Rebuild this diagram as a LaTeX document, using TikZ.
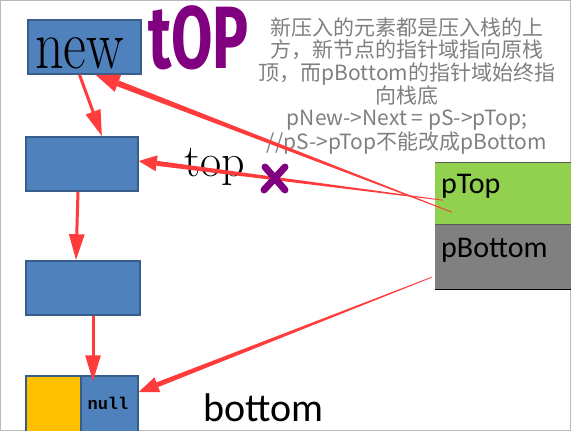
\documentclass[tikz,border=0pt]{standalone}
\usepackage{fontspec}
\usepackage{tikz}
\usetikzlibrary{arrows.meta}
\usetikzlibrary{calc}
\usetikzlibrary{positioning}

\newfontfamily\cjkfont{Noto Sans CJK SC}
\newfontfamily\calfont{Carlito}
\newfontfamily\handfont{Fira Sans}
\newfontfamily\monofont{Liberation Mono}

\definecolor{boxfill}{HTML}{4F81BD}
\definecolor{boxline}{HTML}{385D8A}
\definecolor{nullyellow}{HTML}{FFC000}
\definecolor{ptopgreen}{HTML}{92D050}
\definecolor{pbotgray}{HTML}{808080}
\definecolor{arrowred}{RGB}{255,60,60}
\definecolor{toppurple}{RGB}{128,0,128}
\definecolor{notegray}{HTML}{7F7F7F}

% tapered red arrow: from, tip, half width, head length, half head width
\newcommand{\redtaper}[5]{%
    \coordinate (hb) at ($(#2)!#4!(#1)$);
    \fill[arrowred] ($(#1)!0.4pt!90:(#2)$) -- ($(hb)!#3!90:(#2)$)
        -- ($(hb)!#3!-90:(#2)$) -- ($(#1)!0.4pt!-90:(#2)$) -- cycle;
    \fill[arrowred] (#2) -- ($(hb)!#5!90:(#2)$) -- ($(hb)!#5!-90:(#2)$) -- cycle;
}

\begin{document}
\begin{tikzpicture}[x=1pt, y=-1pt,
    nodebox/.style={draw=boxline, fill=boxfill, line width=1.5pt, minimum height=54pt, inner sep=0pt},
    slot/.style={minimum width=140pt, inner sep=0pt},
    redline/.style={draw=arrowred, line width=3pt, -{Triangle[length=26pt,width=15pt]}},
    xmark/.style={draw=toppurple, line width=7pt, line cap=round}]
    \useasboundingbox (0,0) rectangle (571,431);
    \draw[gray!55] (0.5,0.5) rectangle (570.5,430.5);

    % stack nodes
    \node [nodebox, minimum width=113pt] (new) at (84.5,47) {};
    \node [nodebox, minimum width=112pt] (n1) at (82,164) {};
    \node [nodebox, minimum width=114pt] (n2) at (83,288) {};
    \node [nodebox, minimum width=112pt, minimum height=56pt] (bot) at (82,404) {};
    \node [nodebox, fill=nullyellow, minimum width=55pt, minimum height=56pt, anchor=west] (botdata) at (bot.west) {};
    \node [font=\monofont\bfseries\fontsize{17}{17}\selectfont] (nulllbl) at (108,403) {null};
    \node [anchor=base west, font=\fontsize{70}{70}\selectfont, inner sep=0pt] (newlbl) at (35,68) {\scalebox{0.8}[1]{new}};

    % the stack struct
    \node [slot, fill=ptopgreen, minimum height=62pt, anchor=north west] (ptop) at (435,162) {};
    \node [slot, fill=pbotgray, minimum height=65pt, below=0pt of ptop] (pbot) {};
    \draw [black!65, line width=1pt] (ptop.north west) -- (ptop.north east);
    \draw [black!65, line width=1pt] (pbot.north west) -- (pbot.north east);
    \draw [black, line width=1pt] (pbot.south west) -- (pbot.south east);
    \node [anchor=base west, font=\calfont\fontsize{30}{30}\selectfont, inner sep=0pt] (ptoplbl) at (441,193) {pTop};
    \node [anchor=base west, font=\calfont\fontsize{30}{30}\selectfont, inner sep=0pt] (pbotlbl) at (441,257) {pBottom};

    % labels
    \node [anchor=base west, text=toppurple, font=\handfont\bfseries\fontsize{77}{77}\selectfont, inner sep=0pt] (toph) at (148,68) {\scalebox{0.78}[1.15]{tOP}};
    \node [anchor=base west, font=\fontsize{46}{46}\selectfont, inner sep=0pt] (toplbl) at (184,176) {top};
    \node [anchor=base west, font=\calfont\fontsize{40}{40}\selectfont, inner sep=0pt] (botlbl) at (203,421) {bottom};
    \node [align=center, text=notegray, font=\cjkfont\fontsize{21}{22.2}\selectfont] (note) at (407,86)
        {新压入的元素都是压入栈的上\\方，新节点的指针域指向原栈\\顶，而pBottom的指针域始终指\\向栈底\\pNew->Next = pS->pTop;\\//pS->pTop不能改成pBottom};

    % next pointers
    \path
        ([xshift=-5pt]new.south) edge [redline] ([xshift=20pt]n1.north)
        ([xshift=-4pt]n1.south) edge [redline] ([xshift=-7pt]n2.north)
        ([xshift=10pt]n2.south) edge [redline] ([xshift=11pt,yshift=-6pt]bot.north);

    % pTop / pBottom pointers
    \coordinate (srcA) at ($(ptop.west)+(17,19)$);
    \coordinate (srcB) at ($(ptop.west)+(8,7)$);
    \coordinate (srcC) at ($(pbot.west)+(-3,20)$);
    \coordinate (newin) at ([xshift=11pt]new.south);
    \coordinate (n1in) at ([yshift=3pt]n1.east);
    \coordinate (botin) at ([yshift=12pt]bot.east);
    \redtaper{srcA}{newin}{3pt}{24pt}{9pt}
    \redtaper{srcB}{n1in}{2.5pt}{18pt}{8pt}
    \redtaper{srcC}{botin}{2.5pt}{20pt}{8pt}

    \draw[xmark] (265,167) -- (285,190) (285,167) -- (264,190);
\end{tikzpicture}
\end{document}
